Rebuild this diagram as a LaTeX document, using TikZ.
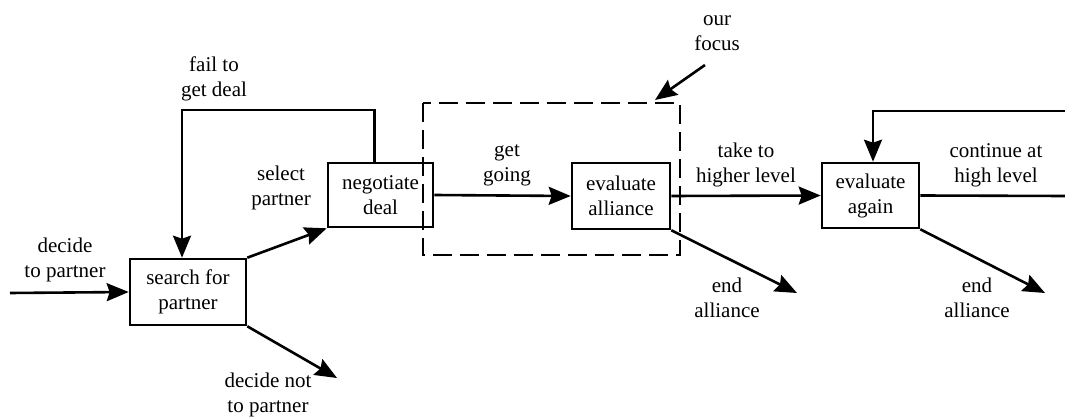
\documentclass[tikz,border=0pt]{standalone}
\usepackage{fontspec}
\setmainfont{Liberation Serif}[Ligatures=TeX]
\usetikzlibrary{arrows.meta}
\begin{document}
\begin{tikzpicture}[x=1pt,y=-1pt,
  box/.style={draw,line width=2.6pt,rectangle,inner sep=0pt,align=center,
    font=\rmfamily\fontsize{21}{25}\selectfont},
  lbl/.style={align=center,inner sep=0pt,font=\rmfamily\fontsize{21}{25}\selectfont},
  arr/.style={line width=2.6pt,-{Stealth[length=22pt,width=18pt,inset=3pt]}},
  link/.style={line width=2.6pt}]
\useasboundingbox (0,0) rectangle (1065,419);

% process steps
\node[box,minimum width=116pt,minimum height=66pt] (search) at (188,292) {search for\\partner};
\node[box,minimum width=105pt,minimum height=64pt] (neg) at (380.5,195) {negotiate\\deal};
\node[box,minimum width=98pt,minimum height=66pt] (evalA) at (621,196) {evaluate\\alliance};
\node[box,minimum width=97pt,minimum height=65pt] (evalB) at (870.5,195.5) {evaluate\\again};

% free ends of the connectors
\coordinate (in) at (10,293);
\coordinate (notp) at (337,378);
\coordinate (loopL) at (182,110);
\coordinate (endA) at (797,293);
\coordinate (endB) at (1045,293);
\coordinate (outR) at (1065,196);
\coordinate (loopR) at (1065,111);
\coordinate (focusFrom) at (705,65);
\coordinate (focusTo) at (655,100);

% connectors
\draw[arr] (in) -- (search.west);
\draw[arr] (search.north east) -- (neg.south west);
\draw[arr] (search.south east) -- (notp);
\draw[arr] ([xshift=-6pt]neg.north) |- (loopL) -- (loopL |- search.north);
\draw[arr] (neg.east) -- (evalA.west);
\draw[arr] (evalA.east) -- (evalB.west);
\draw[arr] (evalA.south east) -- (endA);
\draw[link] (evalB.east) -- (outR);
\draw[arr] (loopR) -| ([xshift=2.5pt]evalB.north);
\draw[arr] (evalB.south east) -- (endB);
\draw[arr] (focusFrom) -- (focusTo);

% focus region
\draw[line width=2.6pt,dash pattern=on 19pt off 8pt] (423,103) rectangle (680,255);

% labels
\node[lbl] (lfocus) at (717,33) {our\\focus};
\node[lbl] (lfail) at (214,79) {fail to\\get deal};
\node[lbl] (lsel) at (281,188) {select\\partner};
\node[lbl] (ldec) at (65,260) {decide\\to partner};
\node[lbl] (lnot) at (268,395) {decide not\\to partner};
\node[lbl] (lgo) at (507,165) {get\\going};
\node[lbl] (lhigh) at (746,165) {take to\\higher level};
\node[lbl] (lendA) at (727,298) {end\\alliance};
\node[lbl] (lcont) at (996,165) {continue at\\high level};
\node[lbl] (lendB) at (977,298) {end\\alliance};
\end{tikzpicture}
\end{document}
